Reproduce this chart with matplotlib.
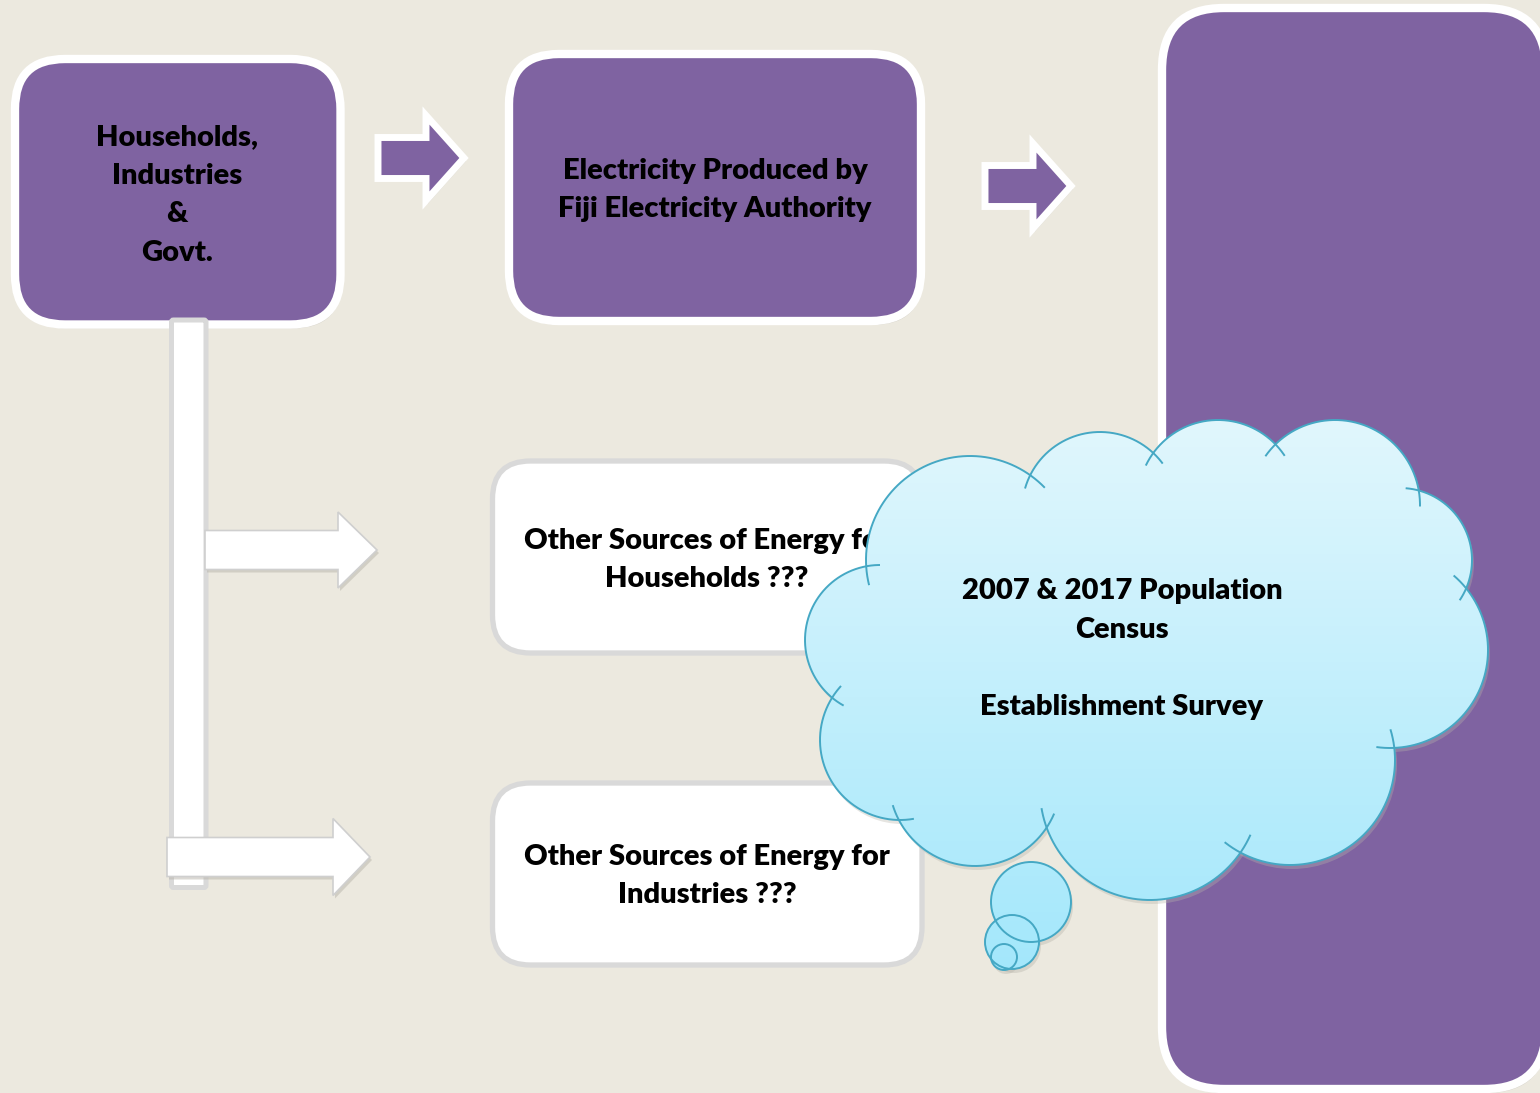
import numpy as np
import matplotlib.pyplot as plt
from matplotlib.patches import FancyBboxPatch, Polygon, Circle
from matplotlib.colors import LinearSegmentedColormap
from matplotlib.path import Path

plt.rcParams['font.family'] = ['Lato', 'DejaVu Sans']

BG = '#ECE9DF'
PURPLE = '#7F63A1'
GREY = '#D9D9D9'
CLOUD_EDGE = '#45A8C4'
CLOUD_TOP = '#E2F7FD'
CLOUD_BOT = '#A2E7FB'

# texts
source_label = 'Households,\nIndustries\n&\nGovt.'
fea_label = 'Electricity Produced by\nFiji Electricity Authority'
other_labels = ['Other Sources of Energy for\nHouseholds ???',
                'Other Sources of Energy for\nIndustries ???']
cloud_label = '2007 & 2017 Population\nCensus\n\nEstablishment Survey'

# cloud lobes (centre x, centre y, radius) and thought bubbles
lobe_x = [970, 1100, 1218, 1335, 1400, 1390, 1290, 1150, 975, 900, 880]
lobe_y = [560, 510, 500, 505, 560, 650, 760, 790, 780, 740, 640]
lobe_r = [104, 78, 80, 85, 72, 98, 105, 110, 86, 80, 75]
bubble_x = [1031, 1012, 1004]
bubble_y = [902, 942, 957]
bubble_r = [40, 27, 13]

FS = 21
LS = 1.6
WEIGHT = 'heavy'

fig = plt.figure(figsize=(15.4, 10.93), dpi=100)
ax = fig.add_axes([0, 0, 1, 1])
ax.set_xlim(0, 1540)
ax.set_ylim(1093, 0)
ax.axis('off')
fig.patch.set_facecolor(BG)


def rbox(x0, y0, x1, y1, r, fc, ec, lw, z, shadow=True):
    if shadow:
        ax.add_patch(FancyBboxPatch((x0 + 2, y0 + 4), x1 - x0, y1 - y0,
                                    boxstyle='round,pad=0,rounding_size=%d' % r,
                                    fc='#b8b5ab', ec='none', alpha=0.5, zorder=z - 0.1))
    ax.add_patch(FancyBboxPatch((x0, y0), x1 - x0, y1 - y0,
                                boxstyle='round,pad=0,rounding_size=%d' % r,
                                fc=fc, ec=ec, lw=lw, zorder=z))


def arrow(x0, yc, xh, xt, hs, hh, fc, ec, lw, z):
    pts = [(x0, yc - hs), (xh, yc - hs), (xh, yc - hh), (xt, yc),
           (xh, yc + hh), (xh, yc + hs), (x0, yc + hs)]
    sh = [(x + 2, y + 3) for x, y in pts]
    ax.add_patch(Polygon(sh, closed=True, fc='#b8b5ab', ec='none', alpha=0.5, zorder=z - 0.1))
    ax.add_patch(Polygon(pts, closed=True, fc=fc, ec=ec, lw=lw, joinstyle='miter', zorder=z))


def label(x, y, s, z=5):
    ax.text(x, y, s, ha='center', va='center', fontsize=FS, fontweight=WEIGHT,
            linespacing=LS, zorder=z)


# purple boxes
rbox(15, 59, 340.5, 324.5, 50, PURPLE, 'white', 6, 2)
rbox(509, 54, 921, 321, 50, PURPLE, 'white', 6, 2)
rbox(1162, 8, 1546, 1089, 62, PURPLE, 'white', 6, 2)

label(177, 195, source_label)
label(715, 190, fea_label)

# purple arrows
arrow(378, 158, 426, 464, 20.5, 42.5, PURPLE, 'white', 5, 3)
arrow(985, 186, 1033, 1071, 20.5, 42.5, PURPLE, 'white', 5, 3)

# white boxes
rbox(492.5, 461, 922, 653, 38, 'white', GREY, 3.8, 2, shadow=False)
rbox(492.5, 783, 922, 965, 38, 'white', GREY, 3.8, 2, shadow=False)
label(707, 560, other_labels[0])
label(707, 876, other_labels[1])

# vertical bar + white arrows
ax.add_patch(FancyBboxPatch((171.5, 320), 34.5, 567.5, boxstyle='round,pad=0,rounding_size=2',
                            fc='white', ec=GREY, lw=3.6, zorder=3))
arrow(205, 550, 338, 377, 19.5, 38, 'white', '#CFCFCF', 1.2, 4)
arrow(167, 857, 333, 370, 19.5, 38.5, 'white', '#CFCFCF', 1.2, 4)

# cloud
grad = np.linspace(0, 1, 256).reshape(-1, 1)
cmap = LinearSegmentedColormap.from_list('cloud', [CLOUD_TOP, CLOUD_BOT])
ext = (790, 1500, 985, 410)


def grad_fill(clip, z):
    im = ax.imshow(grad, cmap=cmap, extent=ext, aspect='auto', zorder=z,
                   interpolation='bilinear')
    im.set_clip_path(clip)


def runs(mask):
    n = len(mask)
    if mask.all():
        return [list(range(n)) + [0]]
    s = int(np.argmin(mask))
    out, cur = [], []
    for i in np.roll(np.arange(n), -s):
        if mask[i]:
            cur.append(i)
        elif cur:
            out.append(cur)
            cur = []
    if cur:
        out.append(cur)
    return out


cx_all = np.array(lobe_x, float)
cy_all = np.array(lobe_y, float)
r_all = np.array(lobe_r, float)
core = np.column_stack([cx_all, cy_all])
core_path = Path(np.vstack([core, core[:1]]))

# shadow of cloud
for cx, cy, r in zip(cx_all, cy_all, r_all):
    ax.add_patch(Circle((cx + 2, cy + 4), r, fc='#b8b5ab', ec='none', alpha=0.35, zorder=9))

grad_fill(Polygon(core, closed=True, transform=ax.transData), 10)
for cx, cy, r in zip(cx_all, cy_all, r_all):
    grad_fill(Circle((cx, cy), r, transform=ax.transData), 10)

t = np.radians(np.arange(0, 360, 0.5))
for i, (cx, cy, r) in enumerate(zip(cx_all, cy_all, r_all)):
    px = cx + r * np.cos(t)
    py = cy + r * np.sin(t)
    vis = ~core_path.contains_points(np.column_stack([px, py]))
    for j in range(len(cx_all)):
        if j == i:
            continue
        d = np.hypot(px - cx_all[j], py - cy_all[j])
        vis &= d > r_all[j] - 0.5
    # extend each visible run a little for the inner curl strokes
    ext_vis = vis.copy()
    for s in range(1, 22):
        ext_vis |= np.roll(vis, s) | np.roll(vis, -s)
    for seg in runs(ext_vis):
        ax.plot(px[seg], py[seg], color=CLOUD_EDGE, lw=1.4, zorder=11,
                solid_capstyle='butt')

# thought bubbles
for cx, cy, r in zip(bubble_x, bubble_y, bubble_r):
    ax.add_patch(Circle((cx + 2, cy + 4), r, fc='#b8b5ab', ec='none', alpha=0.4, zorder=11.5))
for cx, cy, r in zip(bubble_x, bubble_y, bubble_r):
    grad_fill(Circle((cx, cy), r, transform=ax.transData), 12)
for cx, cy, r in zip(bubble_x, bubble_y, bubble_r):
    ax.add_patch(Circle((cx, cy), r, fc='none', ec=CLOUD_EDGE, lw=1.4, zorder=13))

label(1122, 649, cloud_label, z=14)

fig.savefig('out.png', dpi=100, facecolor=BG)
